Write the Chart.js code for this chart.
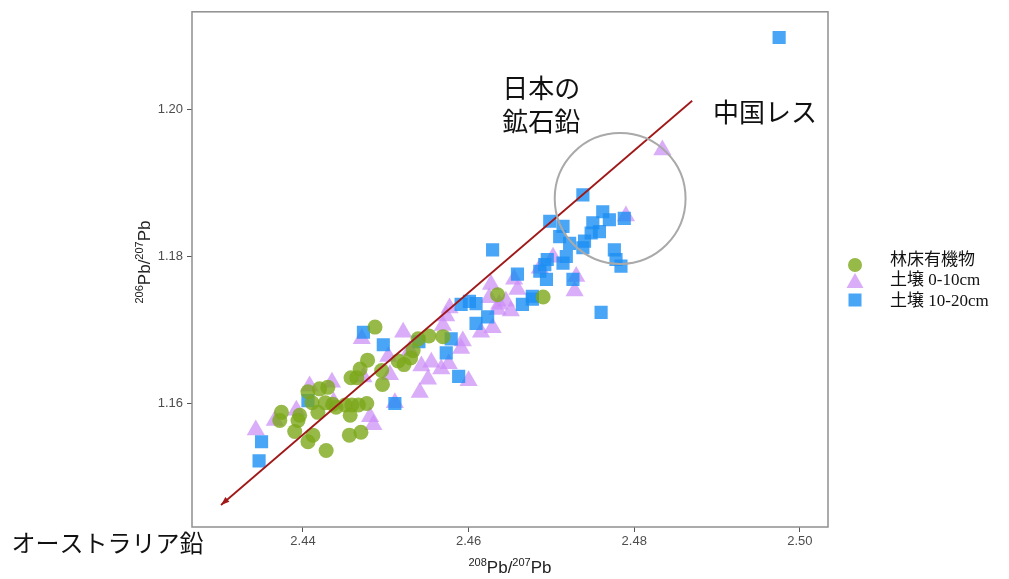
<!DOCTYPE html>
<html>
<head>
<meta charset="utf-8">
<script src="https://cdn.jsdelivr.net/npm/chart.js@4/dist/chart.umd.min.js"></script>
<style>
  body { margin: 0; background: #fff; }
  #wrap { width: 1009px; height: 579px; position: relative; }
</style>
</head>
<body>
<div id="wrap"><canvas id="myChartPb"></canvas></div>
<script>
// ejes
const xTicks = [2.44, 2.46, 2.48, 2.50];
const yTicks = [1.16, 1.18, 1.20];
const xRange = [2.4266, 2.5034];
const yRange = [1.1432, 1.2133];

const seriesNames = ['林床有機物', '土壌 0-10cm', '土壌 10-20cm'];

// 林床有機物
const organicX = [2.4487, 2.4374, 2.4372, 2.4396, 2.4394, 2.4390, 2.4406, 2.4412, 2.4428, 2.4406,
  2.4420, 2.4430, 2.4411, 2.4418, 2.4427, 2.4436, 2.4440, 2.4451, 2.4459, 2.4467,
  2.4477, 2.4457, 2.4456, 2.4470, 2.4458, 2.4465, 2.4469, 2.4478, 2.4495, 2.4496,
  2.4515, 2.4522, 2.4530, 2.4533, 2.4539, 2.4552, 2.4569, 2.4635, 2.4690];
const organicY = [1.1704, 1.1588, 1.1577, 1.1584, 1.1577, 1.1562, 1.1548, 1.1557, 1.1536, 1.1616,
  1.1620, 1.1622, 1.1601, 1.1588, 1.1601, 1.1599, 1.1595, 1.1598, 1.1598, 1.1598,
  1.1600, 1.1584, 1.1557, 1.1561, 1.1635, 1.1635, 1.1647, 1.1659, 1.1645, 1.1626,
  1.1658, 1.1653, 1.1662, 1.1672, 1.1688, 1.1692, 1.1691, 1.1748, 1.1745];

// 土壌 0-10cm
const topsoilX = [2.4343, 2.4366, 2.4392, 2.4408, 2.4435, 2.4471, 2.4481, 2.4485, 2.4503, 2.4505,
  2.4511, 2.4521, 2.4541, 2.4551, 2.4555, 2.4567, 2.4576, 2.4569, 2.4577, 2.4591,
  2.4600, 2.4615, 2.4627, 2.4629, 2.4637, 2.4645, 2.4651, 2.4635, 2.4625, 2.4593,
  2.4573, 2.4659, 2.4655, 2.4686, 2.4702, 2.4730, 2.4728, 2.4790, 2.4834, 2.4529,
  2.4543, 2.4473, 2.4437];
const topsoilY = [1.1564, 1.1577, 1.1591, 1.1624, 1.1629, 1.1688, 1.1582, 1.1571, 1.1664, 1.1639,
  1.1601, 1.1697, 1.1615, 1.1633, 1.1656, 1.1647, 1.1654, 1.1706, 1.1730, 1.1675,
  1.1631, 1.1697, 1.1762, 1.1703, 1.1735, 1.1739, 1.1726, 1.1728, 1.1744, 1.1685,
  1.1719, 1.1755, 1.1769, 1.1784, 1.1799, 1.1773, 1.1753, 1.1855, 1.1945, 1.1672,
  1.1651, 1.1636, 1.1602];

// 土壌 10-20cm
const subsoilX = [2.4975, 2.4473, 2.4497, 2.4406, 2.4350, 2.4347, 2.4511, 2.4540, 2.4579, 2.4573,
  2.4588, 2.4591, 2.4601, 2.4609, 2.4609, 2.4623, 2.4629, 2.4659, 2.4692, 2.4694,
  2.4677, 2.4665, 2.4738, 2.4698, 2.4714, 2.4762, 2.4750, 2.4770, 2.4748, 2.4758,
  2.4710, 2.4722, 2.4740, 2.4738, 2.4718, 2.4714, 2.4695, 2.4686, 2.4726, 2.4776,
  2.4778, 2.4784, 2.4788, 2.4677, 2.4760];
const subsoilY = [1.2098, 1.1697, 1.1680, 1.1604, 1.1548, 1.1522, 1.1600, 1.1684, 1.1688, 1.1669,
  1.1637, 1.1735, 1.1739, 1.1736, 1.1709, 1.1718, 1.1809, 1.1776, 1.1789, 1.1769,
  1.1742, 1.1735, 1.1884, 1.1848, 1.1841, 1.1861, 1.1846, 1.1850, 1.1832, 1.1834,
  1.1827, 1.1818, 1.1821, 1.1812, 1.1800, 1.1791, 1.1796, 1.1780, 1.1769, 1.1809,
  1.1796, 1.1787, 1.1852, 1.1746, 1.1724];

// línea de mezcla (extremo superior -> extremo con flecha) y círculo
const mixLineX = [2.4870, 2.4301];
const mixLineY = [1.2012, 1.1462];
const oreCircle = { x: 2.4783, y: 1.1879, r: 0.0079 };

// etiquetas
const labelOre = { x: 2.4690, y: 1.2029, lines: ['日本の', '鉱石鉛'] };
const labelLoess = { x: 2.4958, y: 1.1997, text: '中国レス' };
const labelAus = { x: 2.4048, y: 1.1410, text: 'オーストラリア鉛' };

const colGreen = 'rgba(124, 168, 26, 0.8)';
const colPurple = 'rgba(202, 138, 246, 0.7)';
const colBlue = 'rgba(28, 142, 242, 0.8)';

function toPoints(xs, ys) {
    return xs.map((v, i) => ({ x: v, y: ys[i] }));
}

function drawSup(ctx, parts, x, y, align) {
    const big = '17px "Liberation Sans", Arial, sans-serif';
    const small = '11px "Liberation Sans", Arial, sans-serif';
    let total = 0;
    parts.forEach(p => { ctx.font = p[1] ? small : big; total += ctx.measureText(p[0]).width; });
    let cx = align === 'center' ? x - total / 2 : x;
    ctx.textAlign = 'left';
    ctx.textBaseline = 'alphabetic';
    parts.forEach(p => {
        ctx.font = p[1] ? small : big;
        ctx.fillText(p[0], cx, p[1] ? y - 7 : y);
        cx += ctx.measureText(p[0]).width;
    });
}

const overlay = {
    id: 'overlay',
    afterDatasetsDraw(chart) {
        const ctx = chart.ctx;
        const sx = chart.scales.x, sy = chart.scales.y;
        ctx.save();
        // flecha
        const x0 = sx.getPixelForValue(mixLineX[0]), y0 = sy.getPixelForValue(mixLineY[0]);
        const x1 = sx.getPixelForValue(mixLineX[1]), y1 = sy.getPixelForValue(mixLineY[1]);
        ctx.strokeStyle = '#a01818';
        ctx.fillStyle = '#a01818';
        ctx.lineWidth = 1.8;
        ctx.beginPath();
        ctx.moveTo(x0, y0);
        ctx.lineTo(x1, y1);
        ctx.stroke();
        const ang = Math.atan2(y1 - y0, x1 - x0);
        ctx.beginPath();
        ctx.moveTo(x1, y1);
        ctx.lineTo(x1 - 9 * Math.cos(ang - 0.35), y1 - 9 * Math.sin(ang - 0.35));
        ctx.lineTo(x1 - 9 * Math.cos(ang + 0.35), y1 - 9 * Math.sin(ang + 0.35));
        ctx.closePath();
        ctx.fill();
        // círculo
        const cx = sx.getPixelForValue(oreCircle.x), cy = sy.getPixelForValue(oreCircle.y);
        const rad = Math.abs(sx.getPixelForValue(oreCircle.x + oreCircle.r) - cx);
        ctx.strokeStyle = '#a9a9a9';
        ctx.lineWidth = 2;
        ctx.beginPath();
        ctx.arc(cx, cy, rad, 0, Math.PI * 2);
        ctx.stroke();
        ctx.restore();
    },
    afterDraw(chart) {
        const ctx = chart.ctx;
        const a = chart.chartArea;
        const sx = chart.scales.x, sy = chart.scales.y;
        ctx.save();
        // marco
        ctx.strokeStyle = '#8f8f8f';
        ctx.lineWidth = 1.5;
        ctx.strokeRect(a.left, a.top, a.right - a.left, a.bottom - a.top);

        // textos
        ctx.fillStyle = '#111';
        ctx.textBaseline = 'middle';
        ctx.textAlign = 'left';
        ctx.font = '26px "Noto Sans CJK JP", sans-serif';
        const ox = sx.getPixelForValue(labelOre.x), oy = sy.getPixelForValue(labelOre.y);
        labelOre.lines.forEach((t, i) => ctx.fillText(t, ox - 41, oy + i * 33));
        ctx.textAlign = 'center';
        ctx.fillText(labelLoess.text, sx.getPixelForValue(labelLoess.x), sy.getPixelForValue(labelLoess.y));
        ctx.textAlign = 'left';
        ctx.font = '24px "Noto Sans CJK JP", sans-serif';
        ctx.fillText(labelAus.text, sx.getPixelForValue(labelAus.x), sy.getPixelForValue(labelAus.y));

        // títulos de ejes
        ctx.fillStyle = '#222';
        drawSup(ctx, [['208', true], ['Pb/', false], ['207', true], ['Pb', false]], (a.left + a.right) / 2, 573, 'center');
        ctx.save();
        ctx.translate(150, 262);
        ctx.rotate(-Math.PI / 2);
        drawSup(ctx, [['206', true], ['Pb/', false], ['207', true], ['Pb', false]], 0, 0, 'center');
        ctx.restore();

        // leyenda
        const lx = 855;
        ctx.fillStyle = colGreen;
        ctx.beginPath(); ctx.arc(lx, 265, 7, 0, Math.PI * 2); ctx.fill();
        ctx.fillStyle = colPurple;
        ctx.beginPath();
        ctx.moveTo(lx, 273); ctx.lineTo(lx + 8.5, 288); ctx.lineTo(lx - 8.5, 288);
        ctx.closePath(); ctx.fill();
        ctx.fillStyle = colBlue;
        ctx.fillRect(lx - 6.5, 293.5, 13, 13);
        ctx.fillStyle = '#111';
        ctx.font = '17px "Liberation Serif", "Noto Sans CJK JP", serif';
        ctx.textAlign = 'left';
        ctx.textBaseline = 'middle';
        [261, 281, 302].forEach((yy, i) => ctx.fillText(seriesNames[i], 890, yy));
        ctx.restore();
    }
};

function initializeChartPb() {
    var ctx = document.getElementById('myChartPb').getContext('2d');
    var tickFont = { family: '"Liberation Sans", Arial, sans-serif', size: 13 };
    new Chart(ctx, {
        type: 'scatter',
        data: {
            datasets: [{
                label: seriesNames[0],
                data: toPoints(organicX, organicY),
                pointStyle: 'circle',
                pointRadius: 7.5,
                backgroundColor: colGreen,
                borderWidth: 0,
                order: 0
            },
            {
                label: seriesNames[1],
                data: toPoints(topsoilX, topsoilY),
                pointStyle: 'triangle',
                pointRadius: 10.5,
                backgroundColor: colPurple,
                borderWidth: 0,
                order: 2
            },
            {
                label: seriesNames[2],
                data: toPoints(subsoilX, subsoilY),
                pointStyle: 'rect',
                pointRadius: 9.3,
                backgroundColor: colBlue,
                borderWidth: 0,
                order: 1
            }]
        },
        options: {
            responsive: true,
            maintainAspectRatio: false,
            animation: false,
            layout: { padding: { left: 0, right: 181, top: 9, bottom: 0 } },
            scales: {
                x: {
                    type: 'linear',
                    min: xRange[0],
                    max: xRange[1],
                    afterBuildTicks: (scale) => { scale.ticks = xTicks.map(v => ({ value: v })); },
                    afterFit: (scale) => { scale.height = 52; },
                    ticks: {
                        color: '#4d4d4d',
                        font: tickFont,
                        padding: 2,
                        maxRotation: 0,
                        callback: (v) => v.toFixed(2)
                    },
                    grid: { drawOnChartArea: false, drawTicks: true, tickLength: 5, color: '#555' },
                    border: { display: false }
                },
                y: {
                    type: 'linear',
                    min: yRange[0],
                    max: yRange[1],
                    afterBuildTicks: (scale) => { scale.ticks = yTicks.map(v => ({ value: v })); },
                    afterFit: (scale) => { scale.width = 192; },
                    ticks: {
                        color: '#4d4d4d',
                        font: tickFont,
                        padding: 4,
                        callback: (v) => v.toFixed(2)
                    },
                    grid: { drawOnChartArea: false, drawTicks: true, tickLength: 5, color: '#555' },
                    border: { display: false }
                }
            },
            plugins: {
                legend: { display: false },
                tooltip: { enabled: false }
            }
        },
        plugins: [overlay]
    });
}

initializeChartPb();
</script>
</body>
</html>
